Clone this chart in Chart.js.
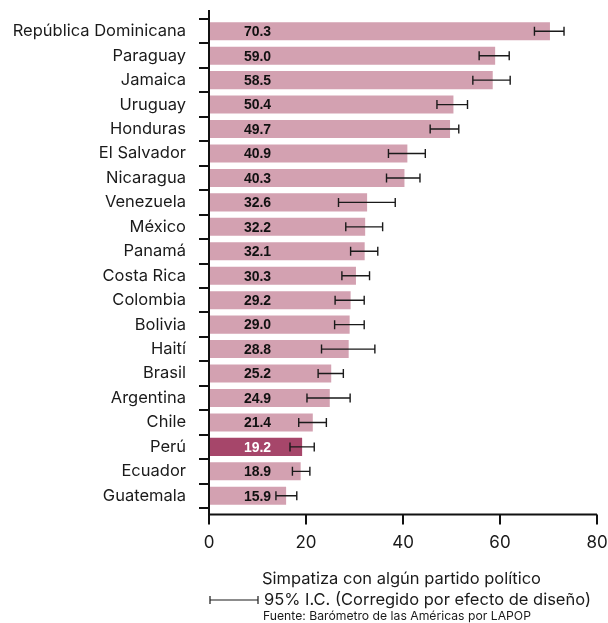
<!DOCTYPE html>
<html>
<head>
<meta charset="utf-8">
<script src="https://cdn.jsdelivr.net/npm/chart.js@4/dist/chart.umd.min.js"></script>
<style>
html,body{margin:0;padding:0;background:#fff;}
#wrap{width:608px;height:623px;position:relative;}
</style>
</head>
<body>
<div id="wrap"><canvas id="c" width="608" height="623"></canvas></div>
<script>
const countries = ["República Dominicana","Paraguay","Jamaica","Uruguay","Honduras","El Salvador","Nicaragua","Venezuela","México","Panamá","Costa Rica","Colombia","Bolivia","Haití","Brasil","Argentina","Chile","Perú","Ecuador","Guatemala"];
const values = [70.3,59.0,58.5,50.4,49.7,40.9,40.3,32.6,32.2,32.1,30.3,29.2,29.0,28.8,25.2,24.9,21.4,19.2,18.9,15.9];
const ciLow  = [67.1,55.7,54.4,47.0,45.6,37.0,36.6,26.7,28.2,29.2,27.4,26.0,25.9,23.2,22.5,20.2,18.5,16.7,17.2,13.8];
const ciHigh = [73.2,61.9,62.1,53.3,51.5,44.6,43.5,38.4,35.8,34.8,33.1,32.0,32.0,34.2,27.7,29.1,24.2,21.7,20.8,18.1];
const xTicks = [0,20,40,60,80];
const highlight = "Perú";
const axisTitle = "Simpatiza con algún partido político";
const ciLegend = "95% I.C. (Corregido por efecto de diseño)";
const source = "Fuente: Barómetro de las Américas por LAPOP";

const PINK = "#d3a1b1", DARK = "#a6466a";
const FONT = "Inter, 'Liberation Sans', Arial, sans-serif";

const overlay = {
  id: "overlay",
  afterDatasetsDraw(chart) {
    const ctx = chart.ctx, xs = chart.scales.x, ys = chart.scales.y, ca = chart.chartArea;
    ctx.save();
    // error bars
    ctx.strokeStyle = "#1a1a1a"; ctx.lineWidth = 1.4;
    countries.forEach((c, i) => {
      const y = ys.getPixelForValue(i);
      const x1 = xs.getPixelForValue(ciLow[i]), x2 = xs.getPixelForValue(ciHigh[i]);
      ctx.beginPath();
      ctx.moveTo(x1, y); ctx.lineTo(x2, y);
      ctx.moveTo(x1, y - 4.5); ctx.lineTo(x1, y + 4.5);
      ctx.moveTo(x2, y - 4.5); ctx.lineTo(x2, y + 4.5);
      ctx.stroke();
    });
    // value labels
    ctx.font = "bold 14px 'Liberation Sans', Arial, sans-serif";
    ctx.textAlign = "center"; ctx.textBaseline = "middle";
    const lx = xs.getPixelForValue(0) + 48.5;
    countries.forEach((c, i) => {
      const y = ys.getPixelForValue(i);
      ctx.fillStyle = c === highlight ? "#ffffff" : "#111111";
      ctx.fillText(values[i].toFixed(1), lx, y + 1);
    });
    // axes lines
    const axisY = ca.bottom + 6.5;
    ctx.strokeStyle = "#111"; ctx.lineWidth = 2;
    ctx.beginPath();
    ctx.moveTo(ca.left, ca.top - 9); ctx.lineTo(ca.left, axisY + 1);
    ctx.moveTo(ca.left - 1, axisY); ctx.lineTo(ca.right, axisY);
    ctx.stroke();
    // x ticks
    xTicks.forEach(v => {
      const x = xs.getPixelForValue(v);
      ctx.beginPath(); ctx.moveTo(x, axisY); ctx.lineTo(x, axisY + 10); ctx.stroke();
    });
    // bottom text
    ctx.fillStyle = "#1a1a1a";
    ctx.textAlign = "left"; ctx.textBaseline = "middle";
    ctx.font = "16.5px " + FONT;
    ctx.fillText(axisTitle, 262, 579);
    ctx.fillText(ciLegend, 264, 600);
    ctx.lineWidth = 1.2; ctx.strokeStyle = "#1a1a1a";
    ctx.beginPath();
    ctx.moveTo(210, 600); ctx.lineTo(258, 600);
    ctx.moveTo(210, 596); ctx.lineTo(210, 604);
    ctx.moveTo(258, 596); ctx.lineTo(258, 604);
    ctx.stroke();
    ctx.font = "12.2px " + FONT;
    ctx.fillText(source, 263, 616);
    ctx.restore();
  }
};

new Chart(document.getElementById("c"), {
  type: "bar",
  data: {
    labels: countries,
    datasets: [{
      data: values,
      backgroundColor: countries.map(c => c === highlight ? DARK : PINK),
      borderWidth: 0,
      barPercentage: 0.74,
      categoryPercentage: 1
    }]
  },
  options: {
    indexAxis: "y",
    responsive: false,
    animation: false,
    layout: { padding: { top: 19, right: 11, left: 0, bottom: 0 } },
    plugins: { legend: { display: false }, tooltip: { enabled: false } },
    scales: {
      x: {
        min: 0, max: 80,
        afterFit(s) { s.height = 115; s.paddingLeft = 0; s.paddingRight = 0; },
        afterBuildTicks(s) { s.ticks = xTicks.map(v => ({ value: v })); },
        border: { display: false },
        grid: { display: true, drawOnChartArea: false, color: "rgba(0,0,0,0)", tickLength: 17 },
        ticks: { color: "#1a1a1a", font: { family: FONT, size: 17 }, padding: 8, maxRotation: 0 }
      },
      y: {
        afterFit(s) { s.width = 209; s.paddingTop = 0; s.paddingBottom = 0; },
        border: { display: false },
        grid: { display: true, drawOnChartArea: false, color: "#111", lineWidth: 2, tickLength: 10 },
        ticks: { color: "#1a1a1a", font: { family: FONT, size: 16.5 }, padding: 13, autoSkip: false }
      }
    }
  },
  plugins: [overlay]
});
</script>
</body>
</html>
